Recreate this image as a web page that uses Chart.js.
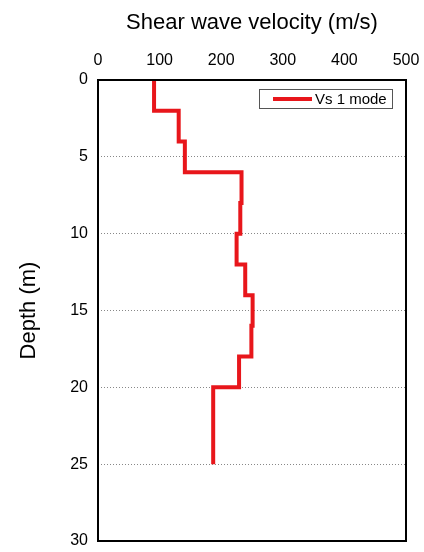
<!DOCTYPE html>
<html>
<head>
<meta charset="utf-8">
<script src="https://cdn.jsdelivr.net/npm/chart.js@4/dist/chart.umd.min.js"></script>
<style>
  html, body { margin: 0; padding: 0; background: #fff; }
  #wrap { width: 424px; height: 552px; }
</style>
</head>
<body>
<div id="wrap"><canvas id="myChart" width="424" height="552"></canvas></div>
<script>
// layer boundaries (m) and shear wave velocity of each layer (m/s)
const layerTop = [0, 2, 4, 6, 8, 10, 12, 14, 16, 18, 20];
const layerBottom = [2, 4, 6, 8, 10, 12, 14, 16, 18, 20, 25];
const vs = [91, 131, 141, 233, 231, 225, 239, 251, 249, 229, 187];

const velocityTicks = [0, 100, 200, 300, 400, 500];
const depthTicks = [0, 5, 10, 15, 20, 25, 30];

// step profile: each layer gives a vertical segment at its velocity
let profile = [];
for (let i = 0; i < vs.length; i++) {
  profile.push({ x: vs[i], y: layerTop[i] });
  profile.push({ x: vs[i], y: layerBottom[i] });
}

const font = "'Liberation Sans', Arial, sans-serif";

// frame around the plot area and the boxed legend
const framePlugin = {
  id: "frame",
  afterDraw(chart) {
    const ctx = chart.ctx;
    const a = chart.chartArea;
    ctx.save();
    ctx.strokeStyle = "#000";
    ctx.lineWidth = 2;
    ctx.strokeRect(a.left, a.top, a.right - a.left, a.bottom - a.top);

    // legend
    const ds = chart.data.datasets[0];
    const bx = a.left + 161, by = a.top + 9, bw = 133, bh = 19;
    ctx.lineWidth = 1;
    ctx.strokeStyle = "#555";
    ctx.fillStyle = "#fff";
    ctx.fillRect(bx, by, bw, bh);
    ctx.strokeRect(bx + 0.5, by + 0.5, bw, bh);
    ctx.strokeStyle = ds.borderColor;
    ctx.lineWidth = 4;
    ctx.beginPath();
    ctx.moveTo(bx + 14, by + bh / 2 + 0.5);
    ctx.lineTo(bx + 53, by + bh / 2 + 0.5);
    ctx.stroke();
    ctx.fillStyle = "#000";
    ctx.font = "15px " + font;
    ctx.textBaseline = "middle";
    ctx.fillText(ds.label, bx + 56, by + bh / 2 + 1);
    ctx.restore();
  }
};

let ctx = document.getElementById("myChart").getContext("2d");

let vsChart = new Chart(ctx, {
  type: "scatter",
  data: {
    datasets: [
      {
        label: "Vs 1 mode",
        data: profile,
        showLine: true,
        borderColor: "#e8161b",
        borderWidth: 4,
        pointRadius: 0,
        fill: false,
      },
    ],
  },
  options: {
    responsive: false,
    animation: false,
    layout: { padding: { right: 18, bottom: 11, top: 0, left: 0 } },
    plugins: {
      legend: { display: false },
      tooltip: { enabled: false },
    },
    scales: {
      x: {
        type: "linear",
        position: "top",
        min: 0,
        max: 500,
        afterBuildTicks: (s) => { s.ticks = velocityTicks.map((v) => ({ value: v })); },
        afterFit: (s) => { s.height = 80; s.paddingLeft = 0; s.paddingRight = 0; },
        grid: { display: false, drawTicks: false },
        border: { display: false },
        ticks: { color: "#000", font: { family: font, size: 16 }, padding: 10, maxRotation: 0 },
        title: {
          display: true,
          text: "Shear wave velocity (m/s)",
          color: "#000",
          font: { family: font, size: 22 },
          padding: { top: 10, bottom: 4 },
        },
      },
      y: {
        type: "linear",
        reverse: true,
        min: 0,
        max: 30,
        afterBuildTicks: (s) => { s.ticks = depthTicks.map((v) => ({ value: v })); },
        afterFit: (s) => { s.width = 98; s.paddingTop = 0; s.paddingBottom = 0; },
        grid: {
          drawTicks: false,
          color: (c) => (c.tick && (c.tick.value === 0 || c.tick.value === 30) ? "rgba(0,0,0,0)" : "#888"),
          lineWidth: 1,
        },
        border: { display: false, dash: [1, 2] },
        ticks: { color: "#000", font: { family: font, size: 16 }, padding: 10 },
        title: {
          display: true,
          text: "Depth (m)",
          color: "#000",
          font: { family: font, size: 22 },
          padding: { top: 16, bottom: 0 },
        },
      },
    },
  },
  plugins: [framePlugin],
});
</script>
</body>
</html>
